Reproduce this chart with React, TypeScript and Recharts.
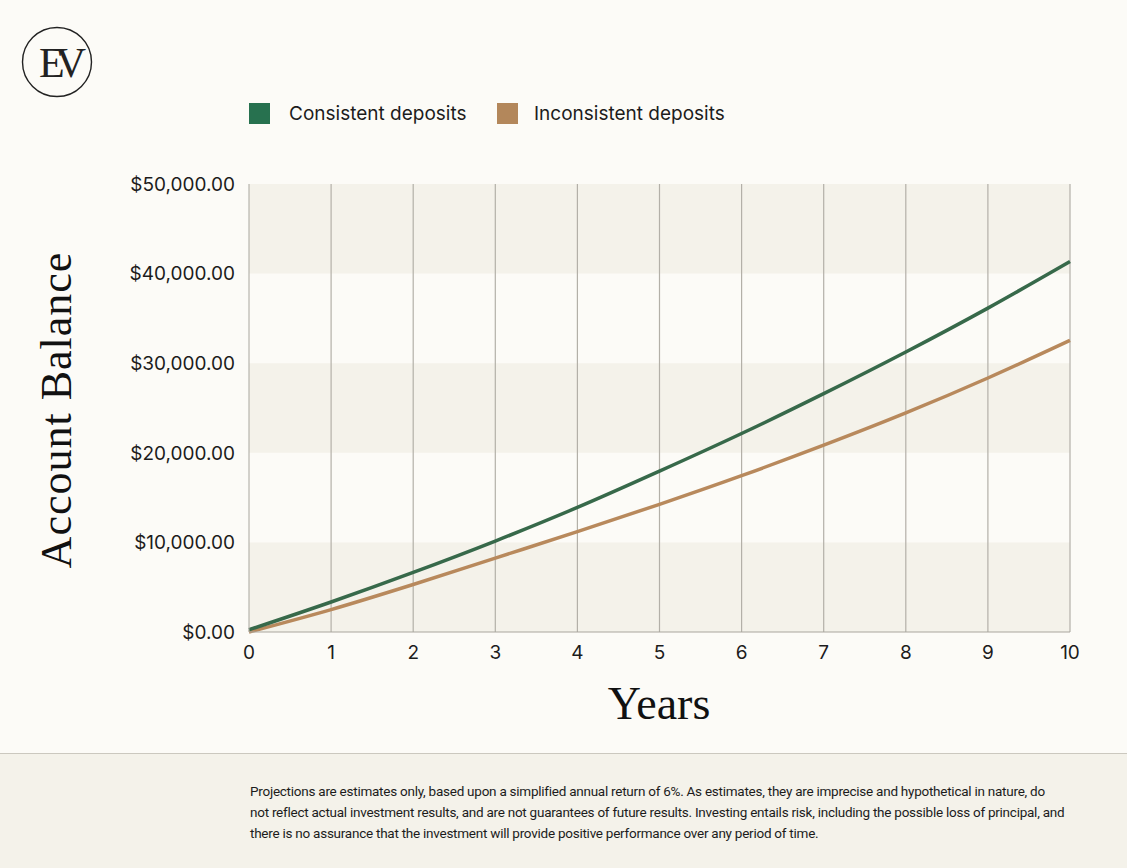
import React from 'react';
import { LineChart, Line, XAxis, YAxis, ReferenceArea, ReferenceLine } from 'recharts';

// values, one point per year
const years = [0, 1, 2, 3, 4, 5, 6, 7, 8, 9, 10];
const consistent = [250, 3350, 6650, 10150, 13900, 17950, 22150, 26600, 31250, 36150, 41350];
const inconsistent = [0, 2500, 5300, 8250, 11200, 14250, 17450, 20850, 24450, 28350, 32550];
const yTicks = [0, 10000, 20000, 30000, 40000, 50000];
const shadedBands = [[0, 10000], [20000, 30000], [40000, 50000]];

const seriesNames = ['Consistent deposits', 'Inconsistent deposits'];
const lineColors = ['#37694a', '#b8895c'];
const legendColors = ['#27714f', '#b3875b'];

const data = years.map((y, i) => ({
  year: y,
  consistent: consistent[i],
  inconsistent: inconsistent[i],
}));

const sans = 'Inter, "Noto Sans", sans-serif';
const serif = '"Liberation Serif", "Times New Roman", serif';
const bg = '#fcfbf7';
const band = '#f4f2ea';
const gridColor = '#b3b0a8';

const money = (v: number) =>
  '$' + v.toLocaleString('en-US', { minimumFractionDigits: 2, maximumFractionDigits: 2 });

const Logo = () => (
  <svg width={80} height={80} style={{ position: 'absolute', left: 17, top: 22 }}>
    <circle cx={40} cy={40} r={34.5} fill="none" stroke="#222" strokeWidth={1.4} />
    <text x={41} y={55} textAnchor="middle" fontFamily={serif} fontSize={42} fill="#222" letterSpacing={-9}>
      EV
    </text>
  </svg>
);

const legendPos = [{ box: 249, text: 289 }, { box: 497, text: 534 }];

const Legend = () => (
  <div style={{ position: 'absolute', left: 0, top: 102, fontFamily: sans, fontSize: 19, color: '#1c1c1c' }}>
    {seriesNames.map((n, i) => (
      <React.Fragment key={n}>
        <div style={{ position: 'absolute', left: legendPos[i].box, top: 1, width: 21, height: 21, background: legendColors[i] }} />
        <span style={{ position: 'absolute', left: legendPos[i].text, top: 0, whiteSpace: 'nowrap' }}>{n}</span>
      </React.Fragment>
    ))}
  </div>
);

export default function App() {
  return (
    <div style={{ position: 'absolute', left: 0, top: 0, width: 1127, height: 868, background: bg, overflow: 'hidden' }}>
      <Logo />
      <Legend />
      <div style={{ position: 'absolute', left: 0, top: 0 }}>
        <LineChart width={1127} height={753} data={data} margin={{ top: 184, right: 57, bottom: 91, left: 129 }}>
          {shadedBands.map(([a, b]) => (
            <ReferenceArea key={a} y1={a} y2={b} fill={band} fillOpacity={1} stroke="none" ifOverflow="visible" />
          ))}
          {years.slice(1).map((y) => (
            <ReferenceLine key={y} x={y} stroke={gridColor} strokeWidth={1.2} />
          ))}
          <XAxis
            dataKey="year"
            type="number"
            domain={[0, 10]}
            ticks={years}
            height={30}
            tickSize={0}
            tickMargin={14}
            axisLine={{ stroke: '#a9a69e' }}
            tick={{ fontSize: 19, fill: '#1c1c1c', fontFamily: sans }}
          />
          <YAxis
            type="number"
            domain={[0, 50000]}
            ticks={yTicks}
            width={120}
            tickSize={0}
            tickMargin={14}
            tickFormatter={money}
            axisLine={{ stroke: '#a9a69e' }}
            tick={{ fontSize: 19, fill: '#1c1c1c', fontFamily: sans }}
          />
          <Line type="monotone" dataKey="inconsistent" stroke={lineColors[1]} strokeWidth={3.5} dot={false} isAnimationActive={false} />
          <Line type="monotone" dataKey="consistent" stroke={lineColors[0]} strokeWidth={3.5} dot={false} isAnimationActive={false} />
        </LineChart>
      </div>
      <div
        style={{
          position: 'absolute', left: 56, top: 410, transform: 'translate(-50%, -50%) rotate(-90deg)',
          fontFamily: serif, fontSize: 44, color: '#111', whiteSpace: 'nowrap', letterSpacing: 1,
        }}
      >
        Account Balance
      </div>
      <div style={{ position: 'absolute', left: 659, top: 703, transform: 'translate(-50%, -50%)', fontFamily: serif, fontSize: 46, color: '#111' }}>
        Years
      </div>
      <div style={{ position: 'absolute', left: 0, top: 753, width: 1127, height: 115, background: band, borderTop: '1.5px solid #cbc8bf' }}>
        <div style={{ position: 'absolute', left: 250, top: 27, fontFamily: 'Roboto, sans-serif', fontSize: 13.5, lineHeight: '21px', color: '#1c1c1c', whiteSpace: 'nowrap', letterSpacing: -0.25 }}>
          Projections are estimates only, based upon a simplified annual return of 6%. As estimates, they are imprecise and hypothetical in nature, do
          <br />
          not reflect actual investment results, and are not guarantees of future results. Investing entails risk, including the possible loss of principal, and
          <br />
          there is no assurance that the investment will provide positive performance over any period of time.
        </div>
      </div>
    </div>
  );
}
